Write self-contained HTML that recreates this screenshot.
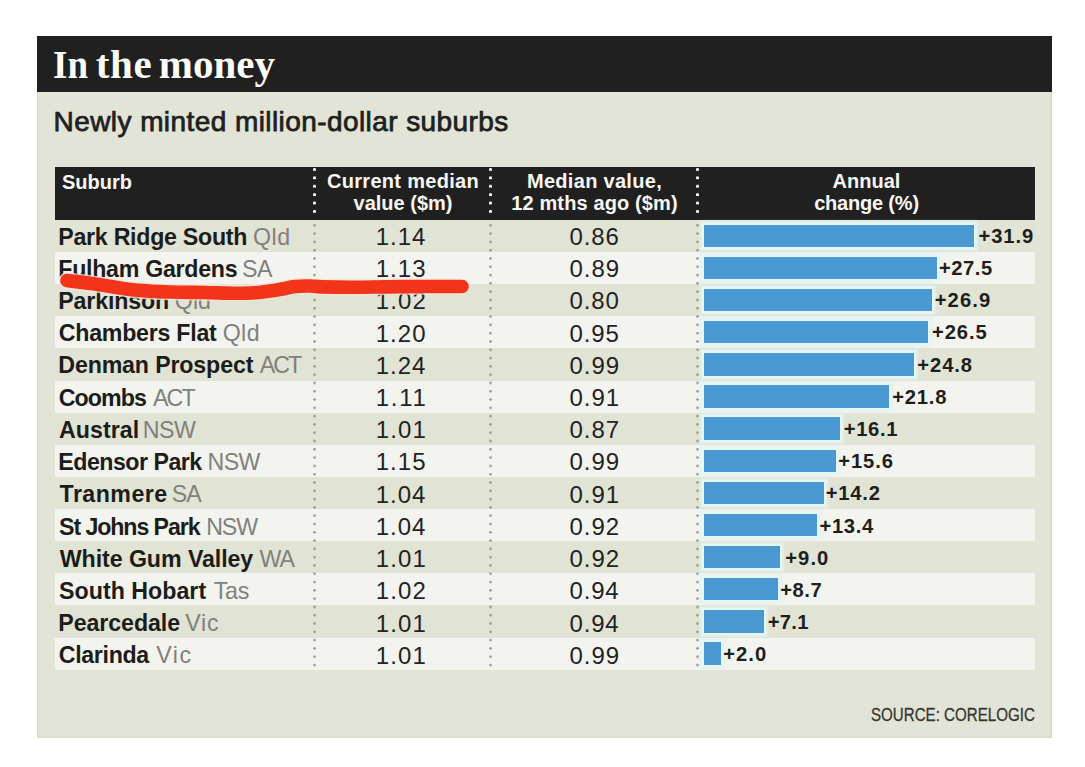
<!DOCTYPE html><html><head><meta charset="utf-8"><title>In the money</title><style>
*{margin:0;padding:0;box-sizing:border-box}
html,body{width:1085px;height:767px;overflow:hidden;background:#ffffff}
body{position:relative;font-family:"Liberation Sans",sans-serif}
.a{position:absolute;white-space:pre}
#panel{position:absolute;left:37px;top:36px;width:1014.5px;height:701.5px;background:#e2e4d7;box-shadow:inset 0 0 0 1.5px #d8dacc}
#tbar{position:absolute;left:37px;top:36px;width:1015px;height:56px;background:#202020}
.title{top:43.9px;font:700 41px/41px "Liberation Serif",serif;color:#fbfbf8}
#sub{left:53.6px;top:107.6px;font:400 28px/28px "Liberation Sans",sans-serif;color:#20211d;letter-spacing:0.42px;-webkit-text-stroke:0.75px #20211d}
#thead{position:absolute;left:55px;top:166.5px;width:980px;height:53.5px;background:#202020}
.hd{font:700 20px/22.4px "Liberation Sans",sans-serif;color:#f7f7f4;text-align:center}
.row{position:absolute;left:55px;width:980px;height:32.12px}
.g{background:#e1e3d5}
.w{background:#f3f4f0}
.nm{font:700 23.2px/23.2px "Liberation Sans",sans-serif;color:#1c1d19}
.st{font:400 23.2px/23.2px "Liberation Sans",sans-serif;color:#80817a}
.num{font:400 24.0px/24.0px "Liberation Sans",sans-serif;color:#22231f}
.bar{position:absolute;left:704px;height:22.4px;background:#4a99d3;box-shadow:0 0 0 2.5px #e6f5f6,0 0 2px 4px rgba(226,241,239,0.85)}
.pct{font:700 20.2px/20.2px "Liberation Sans",sans-serif;color:#1e1f1b}
.sep{position:absolute;width:3px}
.sh{top:168.4px;height:48px;background:radial-gradient(circle at 1.5px 1.5px,#f4f4f0 1.3px,rgba(0,0,0,0) 1.7px) 0 0/3px 8.4px repeat-y}
.sb{top:223.6px;height:448px;background:radial-gradient(circle at 1.5px 1.3px,#a29e96 1.1px,rgba(0,0,0,0) 1.5px) 0 0/3px 8.3px repeat-y}
#src{left:871px;top:706px;font:400 18px/18px "Liberation Sans",sans-serif;color:#363732;-webkit-text-stroke:0.3px #363732;transform-origin:0 0;transform:scaleX(0.84)}
</style></head><body>
<div id="panel"></div><div id="tbar"></div>
<div class="a title" style="left:52.95px;transform-origin:0 0;transform:scaleX(0.9014)">In</div>
<div class="a title" style="left:95.75px;letter-spacing:0.675px">the</div>
<div class="a title" style="left:158.80px;letter-spacing:0.013px">money</div>
<div class="a" id="sub">Newly minted million-dollar suburbs</div>
<div id="thead"></div>
<div class="a hd" style="left:62px;top:172px;text-align:left;line-height:20px">Suburb</div>
<div class="a hd" style="left:315px;top:169.8px;width:176px"><span style="letter-spacing:0.3px">Current median</span>
value ($m)</div>
<div class="a hd" style="left:491px;top:169.8px;width:207px"><span style="letter-spacing:0.3px">Median value,</span>
<span style="letter-spacing:0.12px">12 mths ago ($m)</span></div>
<div class="a hd" style="left:698px;top:169.8px;width:337px">Annual
<span style="letter-spacing:-0.2px">change (%)</span></div>
<div class="row g" style="top:220.00px"></div>
<div class="row w" style="top:252.12px"></div>
<div class="row g" style="top:284.24px"></div>
<div class="row w" style="top:316.36px"></div>
<div class="row g" style="top:348.48px"></div>
<div class="row w" style="top:380.60px"></div>
<div class="row g" style="top:412.72px"></div>
<div class="row w" style="top:444.84px"></div>
<div class="row g" style="top:476.96px"></div>
<div class="row w" style="top:509.08px"></div>
<div class="row g" style="top:541.20px"></div>
<div class="row w" style="top:573.32px"></div>
<div class="row g" style="top:605.44px"></div>
<div class="row w" style="top:637.56px"></div>
<div class="a nm" style="left:58.30px;top:225.56px;letter-spacing:-0.277px">Park Ridge South</div>
<div class="a st" style="left:252.90px;top:225.56px;letter-spacing:0.550px">Qld</div>
<div class="a num" style="left:375.65px;top:224.88px;letter-spacing:1.017px">1.14</div>
<div class="a num" style="left:569.60px;top:224.88px;letter-spacing:0.850px">0.86</div>
<div class="bar" style="top:224.70px;width:270.0px"></div>
<div class="a pct" style="left:978.45px;top:225.80px;letter-spacing:0.900px">+31.9</div>
<div class="a nm" style="left:58.30px;top:257.78px;letter-spacing:-0.285px">Fulham Gardens</div>
<div class="a st" style="left:242.10px;top:257.78px;letter-spacing:-0.450px">SA</div>
<div class="a num" style="left:375.65px;top:257.10px;letter-spacing:1.100px">1.13</div>
<div class="a num" style="left:569.60px;top:257.10px;letter-spacing:0.933px">0.89</div>
<div class="bar" style="top:256.82px;width:232.8px"></div>
<div class="a pct" style="left:938.95px;top:258.00px;letter-spacing:0.562px">+27.5</div>
<div class="a nm" style="left:58.30px;top:290.00px;letter-spacing:-0.144px">Parkinson</div>
<div class="a st" style="left:174.80px;top:290.00px;letter-spacing:0.050px">Qld</div>
<div class="a num" style="left:375.65px;top:289.32px;letter-spacing:1.183px">1.02</div>
<div class="a num" style="left:569.60px;top:289.32px;letter-spacing:0.850px">0.80</div>
<div class="bar" style="top:288.94px;width:227.7px"></div>
<div class="a pct" style="left:934.65px;top:290.20px;letter-spacing:1.125px">+26.9</div>
<div class="a nm" style="left:58.80px;top:322.22px;letter-spacing:-0.254px">Chambers Flat</div>
<div class="a st" style="left:222.70px;top:322.22px;letter-spacing:0.400px">Qld</div>
<div class="a num" style="left:375.65px;top:321.54px;letter-spacing:1.100px">1.20</div>
<div class="a num" style="left:569.60px;top:321.54px;letter-spacing:0.850px">0.95</div>
<div class="bar" style="top:321.06px;width:224.3px"></div>
<div class="a pct" style="left:932.05px;top:322.40px;letter-spacing:0.888px">+26.5</div>
<div class="a nm" style="left:58.30px;top:354.44px;letter-spacing:-0.150px">Denman Prospect</div>
<div class="a st" style="left:259.70px;top:354.44px;letter-spacing:-1.925px">ACT</div>
<div class="a num" style="left:375.65px;top:353.76px;letter-spacing:1.017px">1.24</div>
<div class="a num" style="left:569.60px;top:353.76px;letter-spacing:0.933px">0.99</div>
<div class="bar" style="top:353.18px;width:209.9px"></div>
<div class="a pct" style="left:917.35px;top:354.60px;letter-spacing:0.887px">+24.8</div>
<div class="a nm" style="left:58.80px;top:386.66px;letter-spacing:-0.930px">Coombs</div>
<div class="a st" style="left:153.00px;top:386.66px;letter-spacing:-1.875px">ACT</div>
<div class="a num" style="left:375.65px;top:385.98px;letter-spacing:1.767px">1.11</div>
<div class="a num" style="left:569.60px;top:385.98px;letter-spacing:0.933px">0.91</div>
<div class="bar" style="top:385.30px;width:184.5px"></div>
<div class="a pct" style="left:892.15px;top:386.80px;letter-spacing:0.812px">+21.8</div>
<div class="a nm" style="left:59.05px;top:418.88px;letter-spacing:0.033px">Austral</div>
<div class="a st" style="left:142.70px;top:418.88px;letter-spacing:-0.500px">NSW</div>
<div class="a num" style="left:375.65px;top:418.20px;letter-spacing:1.183px">1.01</div>
<div class="a num" style="left:569.60px;top:418.20px;letter-spacing:0.933px">0.87</div>
<div class="bar" style="top:417.42px;width:136.3px"></div>
<div class="a pct" style="left:843.75px;top:419.00px;letter-spacing:0.637px">+16.1</div>
<div class="a nm" style="left:58.30px;top:451.10px;letter-spacing:-0.509px">Edensor Park</div>
<div class="a st" style="left:207.40px;top:451.10px;letter-spacing:-0.500px">NSW</div>
<div class="a num" style="left:375.65px;top:450.42px;letter-spacing:1.100px">1.15</div>
<div class="a num" style="left:569.60px;top:450.42px;letter-spacing:0.933px">0.99</div>
<div class="bar" style="top:449.54px;width:132.0px"></div>
<div class="a pct" style="left:838.15px;top:451.20px;letter-spacing:0.950px">+15.6</div>
<div class="a nm" style="left:59.55px;top:483.32px;letter-spacing:0.450px">Tranmere</div>
<div class="a st" style="left:171.70px;top:483.32px;letter-spacing:-0.950px">SA</div>
<div class="a num" style="left:375.65px;top:482.64px;letter-spacing:1.017px">1.04</div>
<div class="a num" style="left:569.60px;top:482.64px;letter-spacing:0.933px">0.91</div>
<div class="bar" style="top:481.66px;width:120.2px"></div>
<div class="a pct" style="left:825.75px;top:483.40px;letter-spacing:0.775px">+14.2</div>
<div class="a nm" style="left:59.05px;top:515.54px;letter-spacing:-1.088px">St Johns Park</div>
<div class="a st" style="left:206.20px;top:515.54px;letter-spacing:-1.100px">NSW</div>
<div class="a num" style="left:375.65px;top:514.86px;letter-spacing:1.017px">1.04</div>
<div class="a num" style="left:569.60px;top:514.86px;letter-spacing:0.933px">0.92</div>
<div class="bar" style="top:513.78px;width:113.4px"></div>
<div class="a pct" style="left:819.45px;top:515.60px;letter-spacing:0.688px">+13.4</div>
<div class="a nm" style="left:59.80px;top:547.76px;letter-spacing:-0.073px">White Gum Valley</div>
<div class="a st" style="left:259.45px;top:547.76px;letter-spacing:-1.050px">WA</div>
<div class="a num" style="left:375.65px;top:547.08px;letter-spacing:1.183px">1.01</div>
<div class="a num" style="left:569.60px;top:547.08px;letter-spacing:0.933px">0.92</div>
<div class="bar" style="top:545.90px;width:76.2px"></div>
<div class="a pct" style="left:785.25px;top:547.80px;letter-spacing:1.083px">+9.0</div>
<div class="a nm" style="left:59.05px;top:579.98px;letter-spacing:0.023px">South Hobart</div>
<div class="a st" style="left:213.70px;top:579.98px;letter-spacing:-0.275px">Tas</div>
<div class="a num" style="left:375.65px;top:579.30px;letter-spacing:1.183px">1.02</div>
<div class="a num" style="left:569.60px;top:579.30px;letter-spacing:0.767px">0.94</div>
<div class="bar" style="top:578.02px;width:73.6px"></div>
<div class="a pct" style="left:780.25px;top:580.00px;letter-spacing:0.550px">+8.7</div>
<div class="a nm" style="left:58.30px;top:612.20px;letter-spacing:-0.072px">Pearcedale</div>
<div class="a st" style="left:185.15px;top:612.20px;letter-spacing:0.775px">Vic</div>
<div class="a num" style="left:375.65px;top:611.52px;letter-spacing:1.183px">1.01</div>
<div class="a num" style="left:569.60px;top:611.52px;letter-spacing:0.767px">0.94</div>
<div class="bar" style="top:610.14px;width:60.1px"></div>
<div class="a pct" style="left:767.75px;top:612.20px;letter-spacing:0.267px">+7.1</div>
<div class="a nm" style="left:58.80px;top:644.42px;letter-spacing:-0.343px">Clarinda</div>
<div class="a st" style="left:156.35px;top:644.42px;letter-spacing:1.425px">Vic</div>
<div class="a num" style="left:375.65px;top:643.74px;letter-spacing:1.183px">1.01</div>
<div class="a num" style="left:569.60px;top:643.74px;letter-spacing:0.933px">0.99</div>
<div class="bar" style="top:642.26px;width:16.9px"></div>
<div class="a pct" style="left:723.25px;top:644.40px;letter-spacing:1.017px">+2.0</div>
<div class="sep sh" style="left:313.4px"></div>
<div class="sep sb" style="left:313.4px"></div>
<div class="sep sh" style="left:489.1px"></div>
<div class="sep sb" style="left:489.1px"></div>
<div class="sep sh" style="left:696.1px"></div>
<div class="sep sb" style="left:696.1px"></div>
<svg class="a" style="left:0;top:0" width="1085" height="767"><path d="M 67 280.6 C 71.2 281.1, 84.2 282.5, 92 283.6 C 99.8 284.7, 106.8 285.9, 114 287 C 121.2 288.1, 125.7 289.2, 135 290 C 144.3 290.8, 158.3 291.6, 170 292 C 181.7 292.4, 194.2 292.3, 205 292.5 C 215.8 292.7, 226.7 293.2, 235 293.2 C 243.3 293.2, 249.2 293.1, 255 292.7 C 260.8 292.3, 265.5 291.6, 270 291 C 274.5 290.4, 277.8 289.8, 282 289 C 286.2 288.2, 290.3 286.9, 295 286.4 C 299.7 285.9, 305.5 285.9, 310 286 C 314.5 286.1, 314.5 286.7, 322 286.9 C 329.5 287.1, 342.0 287.4, 355 287.3 C 368.0 287.2, 382.2 286.7, 400 286.6 C 417.8 286.5, 451.7 286.5, 462 286.5" fill="none" stroke="#fbe3da" stroke-width="16.5" stroke-linecap="round" opacity="0.8"/><path d="M 67 280.6 C 71.2 281.1, 84.2 282.5, 92 283.6 C 99.8 284.7, 106.8 285.9, 114 287 C 121.2 288.1, 125.7 289.2, 135 290 C 144.3 290.8, 158.3 291.6, 170 292 C 181.7 292.4, 194.2 292.3, 205 292.5 C 215.8 292.7, 226.7 293.2, 235 293.2 C 243.3 293.2, 249.2 293.1, 255 292.7 C 260.8 292.3, 265.5 291.6, 270 291 C 274.5 290.4, 277.8 289.8, 282 289 C 286.2 288.2, 290.3 286.9, 295 286.4 C 299.7 285.9, 305.5 285.9, 310 286 C 314.5 286.1, 314.5 286.7, 322 286.9 C 329.5 287.1, 342.0 287.4, 355 287.3 C 368.0 287.2, 382.2 286.7, 400 286.6 C 417.8 286.5, 451.7 286.5, 462 286.5" fill="none" stroke="#f23418" stroke-width="13.6" stroke-linecap="round"/></svg>
<div class="a" id="src">SOURCE: CORELOGIC</div>
</body></html>
